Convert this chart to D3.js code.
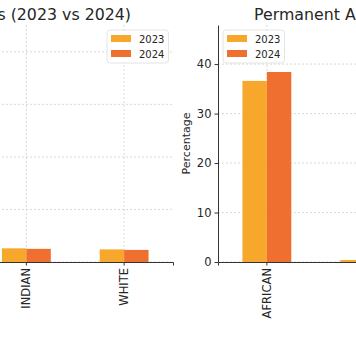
<!DOCTYPE html>
<html>
<head>
<meta charset="utf-8">
<script src="https://cdn.jsdelivr.net/npm/d3@7"></script>
<style>
  html, body { margin: 0; padding: 0; background: #fff; overflow: hidden; }
  svg { display: block; font-family: "DejaVu Sans", sans-serif; }
</style>
</head>
<body>
<div id="chart"></div>
<script>
// Data
var categories = [ 'AFRICAN', 'COLOURED', 'INDIAN', 'WHITE' ];
var years      = [ '2023', '2024' ];
var tempValues2023 = [ 40.5, 9.0, 2.6, 2.4 ];
var tempValues2024 = [ 41.5, 8.5, 2.5, 2.3 ];
var permValues2023 = [ 36.6, 0.4, 2.0, 4.5 ];
var permValues2024 = [ 38.4, 0.5, 2.1, 4.2 ];
var leftTicks  = [ 0, 10, 20, 30, 40 ];
var rightTicks = [ 0, 10, 20, 30, 40 ];

var COLORS = { y2023: '#F7A82C', y2024: '#EF6F31', grid: '#cfcfcf', axis: '#333', text: '#262626' };

var W = 356, H = 354;
var svg = d3.select( '#chart' ).append( 'svg' ).attr( 'width', W ).attr( 'height', H );

function panel( opts ) {
	var x = d3.scaleBand().domain( categories ).range( [ opts.x0, opts.x1 ] ).padding( 0 );
	var y = d3.scaleLinear().domain( [ 0, opts.yMax ] ).range( [ opts.bottom, opts.top ] );
	var g = svg.append( 'g' );
	var bw = x.bandwidth() * 0.25;

	// grid
	g.selectAll( 'line.hg' ).data( opts.ticks ).join( 'line' )
		.attr( 'x1', opts.x0 ).attr( 'x2', opts.x1 )
		.attr( 'y1', function ( d ) { return y( d ); } ).attr( 'y2', function ( d ) { return y( d ); } )
		.attr( 'stroke', COLORS.grid ).attr( 'stroke-width', 0.8 ).attr( 'stroke-dasharray', '2,2' );
	g.selectAll( 'line.vg' ).data( categories ).join( 'line' )
		.attr( 'x1', function ( d ) { return x( d ) + x.bandwidth() / 2; } )
		.attr( 'x2', function ( d ) { return x( d ) + x.bandwidth() / 2; } )
		.attr( 'y1', opts.top ).attr( 'y2', opts.bottom )
		.attr( 'stroke', COLORS.grid ).attr( 'stroke-width', 0.8 ).attr( 'stroke-dasharray', '2,2' );

	// bars
	var series = [ { vals: opts.v2023, color: COLORS.y2023, off: -1 }, { vals: opts.v2024, color: COLORS.y2024, off: 0 } ];
	series.forEach( function ( s ) {
		g.selectAll( null ).data( categories ).join( 'rect' )
			.attr( 'x', function ( d ) { return x( d ) + x.bandwidth() / 2 + s.off * bw; } )
			.attr( 'y', function ( d, i ) { return y( s.vals[ i ] ); } )
			.attr( 'width', bw )
			.attr( 'height', function ( d, i ) { return opts.bottom - y( s.vals[ i ] ); } )
			.attr( 'fill', s.color );
	} );

	// x axis
	var xa = g.append( 'g' ).attr( 'transform', 'translate(0,' + opts.bottom + ')' )
		.call( d3.axisBottom( x ).tickSizeOuter( 0 ).tickSize( 3.5 ) );
	xa.select( '.domain' ).attr( 'stroke', COLORS.axis ).attr( 'stroke-width', 1 );
	xa.selectAll( 'line' ).attr( 'stroke', COLORS.axis );
	xa.selectAll( 'text' )
		.attr( 'fill', COLORS.text ).style( 'font-size', '11.5px' ).style( 'font-family', 'DejaVu Sans' )
		.attr( 'transform', 'rotate(-90)' ).attr( 'text-anchor', 'end' )
		.attr( 'x', -6 ).attr( 'y', 0 ).attr( 'dy', '0.35em' );

	// y axis
	if ( opts.showY ) {
		var ya = g.append( 'g' ).attr( 'transform', 'translate(' + opts.x0 + ',0)' )
			.call( d3.axisLeft( y ).tickValues( opts.ticks ).tickSize( 3.5 ).tickSizeOuter( 0 ) );
		ya.select( '.domain' ).attr( 'stroke', COLORS.axis ).attr( 'stroke-width', 1 );
		ya.selectAll( 'line' ).attr( 'stroke', COLORS.axis );
		ya.selectAll( 'text' ).attr( 'fill', COLORS.text ).style( 'font-size', '11.5px' ).style( 'font-family', 'DejaVu Sans' );
		g.append( 'text' )
			.attr( 'transform', 'translate(' + ( opts.x0 - 28 ) + ',' + ( ( opts.top + opts.bottom ) / 2 ) + ') rotate(-90)' )
			.attr( 'text-anchor', 'middle' ).attr( 'fill', COLORS.text ).style( 'font-size', '11px' )
			.text( 'Percentage' );
	}

	// title
	g.append( 'text' ).attr( 'x', opts.titleX ).attr( 'y', 20 )
		.attr( 'text-anchor', opts.titleAnchor ).attr( 'fill', COLORS.text ).style( 'font-size', '15.8px' )
		.text( opts.title );

	// legend
	var lg = g.append( 'g' ).attr( 'transform', 'translate(' + opts.legendX + ',30)' );
	lg.append( 'rect' ).attr( 'width', 61.5 ).attr( 'height', 33 ).attr( 'rx', 3 )
		.attr( 'fill', '#fff' ).attr( 'fill-opacity', 0.8 ).attr( 'stroke', '#ddd' ).attr( 'stroke-width', 0.8 );
	var items = lg.selectAll( 'g' ).data( years ).join( 'g' )
		.attr( 'transform', function ( d, i ) { return 'translate(4,' + ( 5 + i * 15 ) + ')'; } );
	items.append( 'rect' ).attr( 'width', 20 ).attr( 'height', 7 )
		.attr( 'fill', function ( d, i ) { return i === 0 ? COLORS.y2023 : COLORS.y2024; } );
	items.append( 'text' ).attr( 'x', 28 ).attr( 'y', 7.5 ).attr( 'fill', COLORS.text )
		.style( 'font-size', '10px' ).text( function ( d ) { return d; } );
}

panel( {
	x0: -218, x1: 173, top: 25, bottom: 262, yMax: 45.1, ticks: leftTicks,
	v2023: tempValues2023, v2024: tempValues2024, showY: false,
	title: 'Temporary Appointments (2023 vs 2024)', titleX: 131, titleAnchor: 'end', legendX: 107
} );
panel( {
	x0: 218, x1: 609, top: 25, bottom: 262, yMax: 47.9, ticks: rightTicks,
	v2023: permValues2023, v2024: permValues2024, showY: true,
	title: 'Permanent Appointments (2023 vs 2024)', titleX: 254, titleAnchor: 'start', legendX: 223
} );
</script>
</body>
</html>
